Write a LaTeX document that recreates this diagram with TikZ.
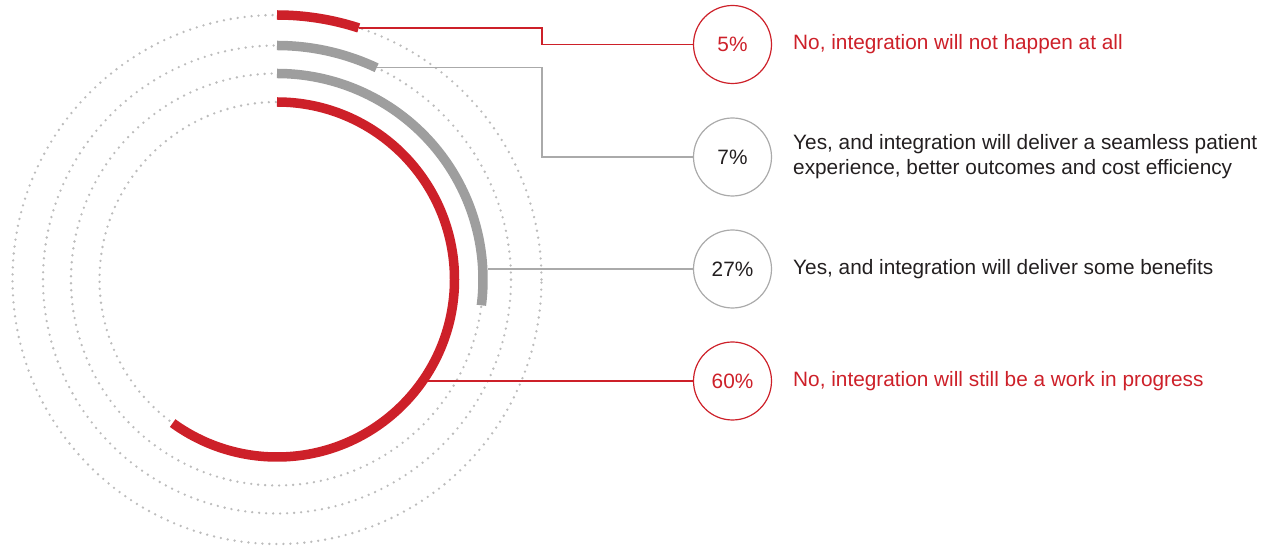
\documentclass[tikz,border=0pt]{standalone}
\usepackage{fontspec}
\setmainfont{Liberation Sans}
\definecolor{cred}{RGB}{205,32,41}
\definecolor{carc}{RGB}{158,158,158}
\definecolor{cline}{RGB}{170,170,170}
\definecolor{cdot}{RGB}{188,188,188}
\definecolor{ctext}{RGB}{35,31,32}
\begin{document}
\begin{tikzpicture}[x=1pt,y=1pt,
  font=\fontsize{20.8}{25}\selectfont,
  dotring/.style={cdot, line width=2.6pt, line cap=round, dash pattern=on 0pt off 7pt},
  bar/.style={line width=9.5pt},
  pct/.style={circle, draw, line width=1.2pt, minimum size=78pt, inner sep=0pt},
  lab/.style={anchor=west, align=left, inner sep=0pt},
  conn/.style={line width=1.2pt}]
\useasboundingbox (0,0) rectangle (1270,546);
\coordinate (c) at (277,266.5);
\foreach \r in {264.5,234,206,177.5} \draw[dotring] (c) circle[radius=\r];
% arc ends
\path (c) ++(72:264.5) coordinate (e1);
\path (c) ++(64.8:234) coordinate (e2);
\coordinate (e3) at (487.5,277);
\coordinate (e4) at (428,165);
\coordinate (j) at (542,0);
% percentage circles
\node[pct, draw=cred, text=cred] (p1) at (732.5,501.5) {5\%};
\node[pct, draw=cline, text=ctext] (p2) at (732.5,389) {7\%};
\node[pct, draw=cline, text=ctext] (p3) at (732.5,277) {27\%};
\node[pct, draw=cred, text=cred] (p4) at (732.5,165) {60\%};
% labels
\node[lab, text=cred] (l1) at (793,501.5) {No, integration will not happen at all};
\node[lab, text=ctext] (l2) at (793,389) {Yes, and integration will deliver a seamless patient\\experience, better outcomes and cost efficiency};
\node[lab, text=ctext] (l3) at (793,277) {Yes, and integration will deliver some benefits};
\node[lab, text=cred] (l4) at (793,165) {No, integration will still be a work in progress};
% connectors
\draw[conn, cred] (e1) -- (e1 -| j) |- (p1.west);
\draw[conn, cline] (e2) -- (e2 -| j) |- (p2.west);
\draw[conn, cline] (e3) -- (p3.west);
\draw[conn, cred] (e4) -- (p4.west);
% arcs
\draw[bar, cred] (c) ++(90:264.5) arc[start angle=90, end angle=72, radius=264.5];
\draw[bar, carc] (c) ++(90:234) arc[start angle=90, end angle=64.8, radius=234];
\draw[bar, carc] (c) ++(90:206) arc[start angle=90, end angle=-7.2, radius=206];
\draw[bar, cred] (c) ++(90:177.5) arc[start angle=90, end angle=-126, radius=177.5];
\end{tikzpicture}
\end{document}
